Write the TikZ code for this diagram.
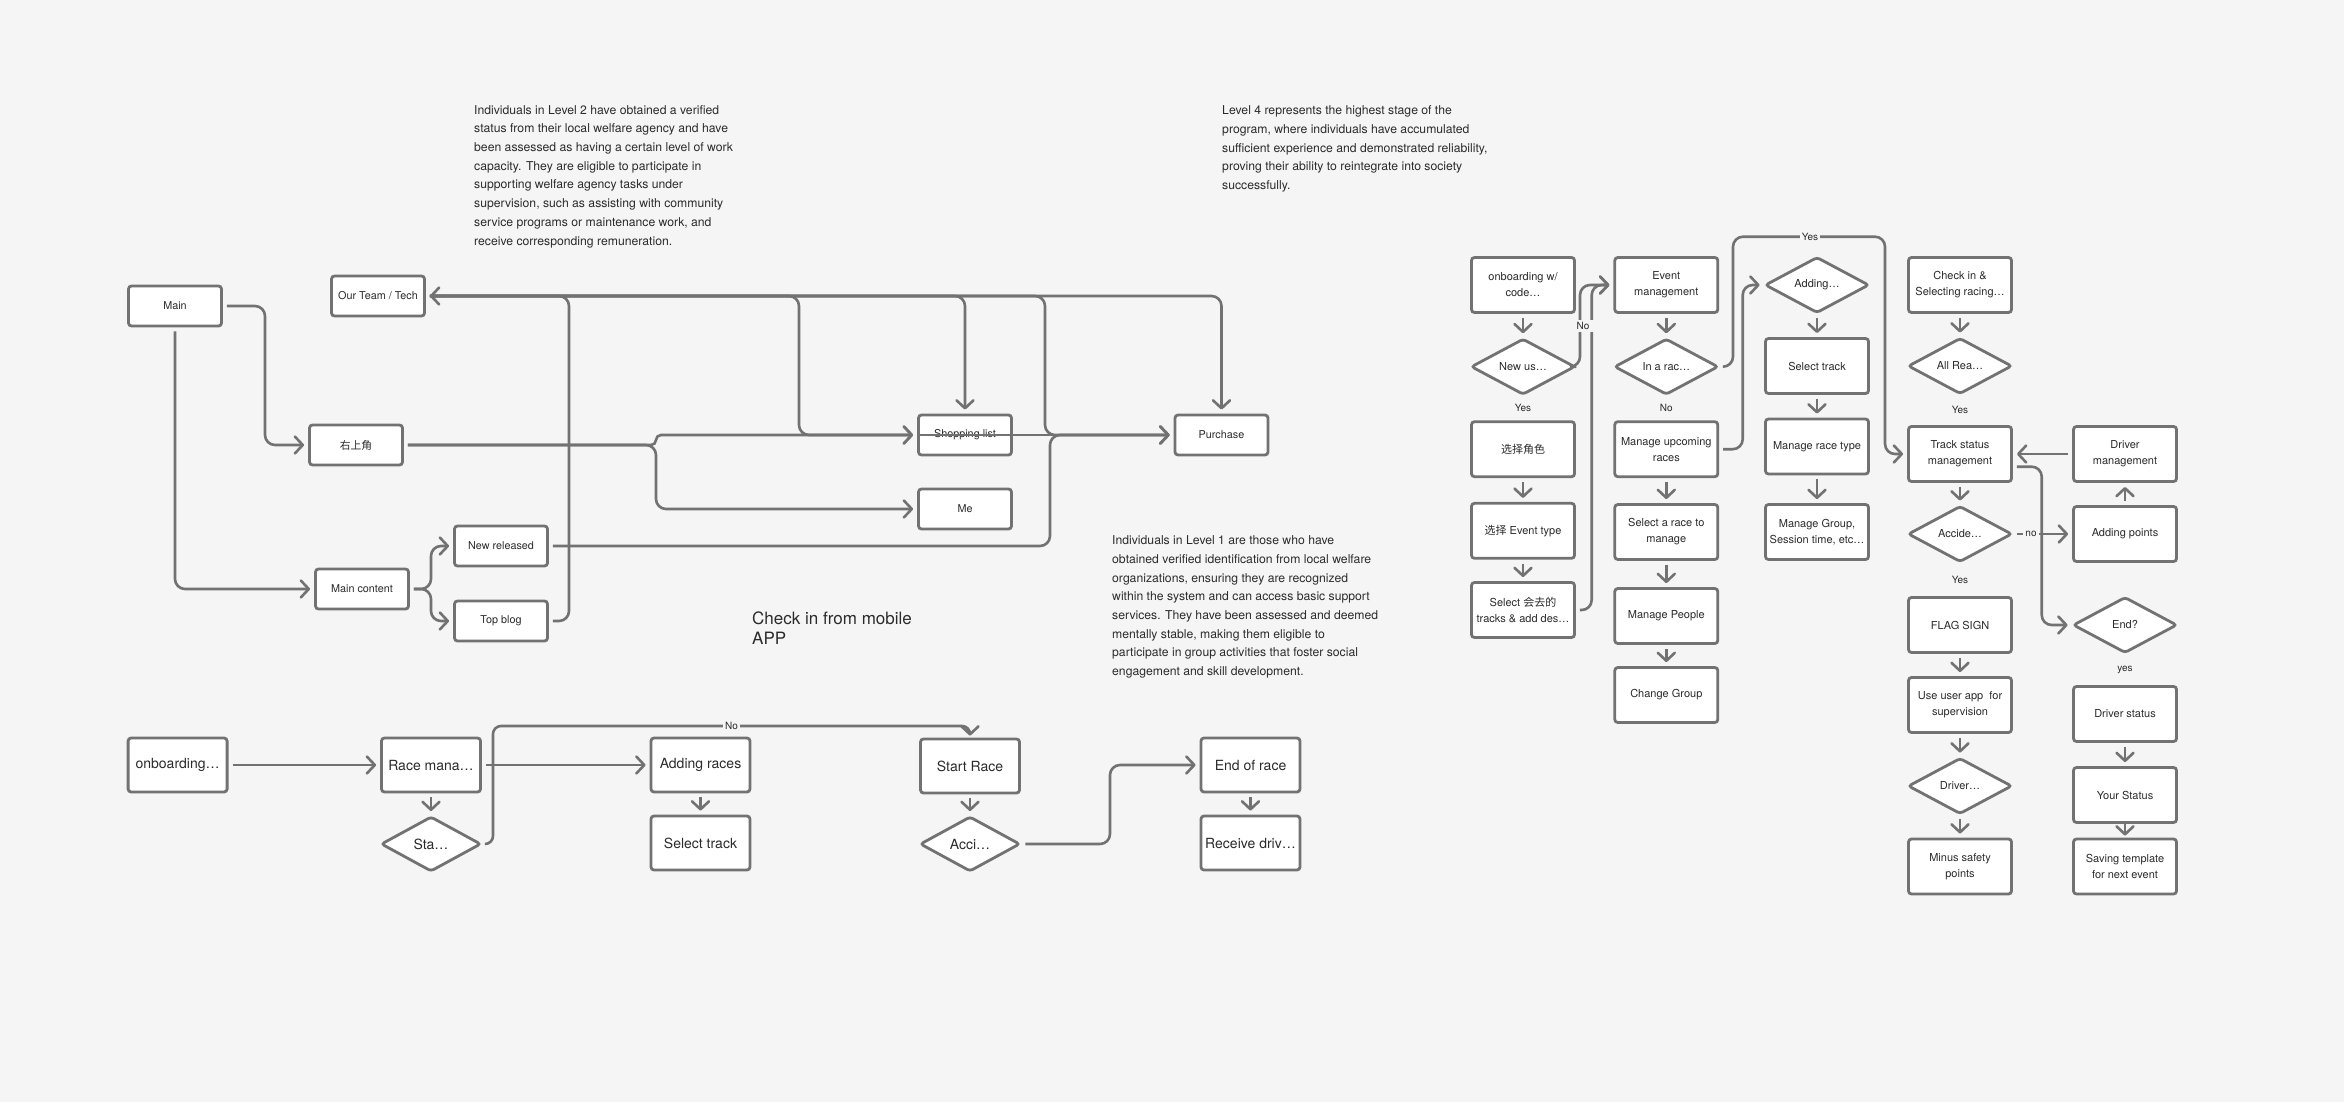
\documentclass[tikz,border=0pt]{standalone}
\usepackage{fontspec}
\setmainfont{TeX Gyre Heros}
\newfontfamily\cjk{Noto Sans CJK SC}
\usepackage{tikz}
\usetikzlibrary{arrows.meta,shapes.geometric,positioning}

\definecolor{paper}{HTML}{F5F5F5}
\definecolor{linegray}{HTML}{727272}
\definecolor{ink}{HTML}{2B2B2B}

\begin{document}
\begin{tikzpicture}[x=1pt, y=-1pt,
    box/.style={draw=linegray, fill=white, line width=2.8pt, rounded corners=3pt, align=center, text=ink, inner sep=2pt},
    small/.style={box, minimum width=93, minimum height=40, font=\fontsize{10.8}{13}\selectfont},
    big/.style={box, minimum width=99, minimum height=54, font=\fontsize{14}{17}\selectfont},
    card/.style={box, minimum width=103, minimum height=55, font=\fontsize{11}{16}\selectfont},
    ask/.style={card, shape=diamond, aspect=1.83, minimum width=104, minimum height=56, inner sep=0pt},
    bigask/.style={big, shape=diamond, aspect=1.8, minimum width=100, minimum height=55, inner sep=0pt},
    link/.style={draw=linegray, line width=2.6pt, rounded corners=10pt, -{Straight Barb[length=8pt,width=17pt,round]}, shorten >=4pt, shorten <=4pt},
    lbl/.style={fill=paper, inner sep=2pt, text=ink, font=\fontsize{10}{12}\selectfont},
    note/.style={anchor=north west, align=left, inner sep=0pt, text=ink, font=\fontsize{12.2}{18.7}\selectfont}]

  \fill[paper] (0,0) rectangle (2344,1102);
  \useasboundingbox (0,0) rectangle (2344,1102);

  % level notes
  \node[note] (lvltwo) at (474,105) {Individuals in Level 2 have obtained a verified\\status from their local welfare agency and have\\been assessed as having a certain level of work\\capacity. They are eligible to participate in\\supporting welfare agency tasks under\\supervision, such as assisting with community\\service programs or maintenance work, and\\receive corresponding remuneration.};
  \node[note] (lvlfour) at (1222,105.5) {Level 4 represents the highest stage of the\\program, where individuals have accumulated\\sufficient experience and demonstrated reliability,\\proving their ability to reintegrate into society\\successfully.};
  \node[note] (lvlone) at (1112,535.5) {Individuals in Level 1 are those who have\\obtained verified identification from local welfare\\organizations, ensuring they are recognized\\within the system and can access basic support\\services. They have been assessed and deemed\\mentally stable, making them eligible to\\participate in group activities that foster social\\engagement and skill development.};
  \node[note, font=\fontsize{17}{20}\selectfont] (mobile) at (752,612) {Check in from mobile\\APP};

  % website map
  \node[small] (main) at (175,306) {Main};
  \node[small] (team) at (378,296) {Our Team / Tech};
  \node[small] (topright) at (356,445) {{\cjk 右上角}};
  \node[small] (content) at (362,589) {Main content};
  \node[small] (newrel) at (501,546) {New released};
  \node[small] (topblog) at (501,621) {Top blog};
  \node[small] (shop) at (965,435) {Shopping list};
  \node[small] (me) at (965,509) {Me};
  \node[small] (buy) at (1221.5,435) {Purchase};

  \draw[link] (main.east) -- (265,306) |- (topright.west);
  \draw[link] (main.south) |- (content.west);
  \draw[link] (content.east) -- (431,589) |- (newrel.west);
  \draw[link] (content.east) -- (431,589) |- (topblog.west);
  \draw[link] (topblog.east) -- (569,621) |- (team.east);
  \draw[link, rounded corners=5pt] (topright.east) -- (656,445) |- (shop.west);
  \draw[link] (topright.east) -- (656,445) |- (me.west);
  \draw[link] (team.east) -- (799,296) |- (shop.west);
  \draw[link] (team.east) -| (shop.north);
  \draw[link] (team.east) -- (1045,296) |- (buy.west);
  \draw[link] (newrel.east) -- (1050,546) |- (buy.west);
  \draw[link] (team.east) -| (buy.north);
  \draw[link, shorten <=0pt] (shop.west) -- (buy.west);

  % mobile check in
  \node[big] (onb) at (177.6,765) {onboarding…};
  \node[big] (racemgmt) at (431,765) {Race mana…};
  \node[bigask] (started) at (431,844) {Sta…};
  \node[big] (addrace) at (700.5,765) {Adding races};
  \node[big] (pick) at (700.5,843) {Select track};
  \node[big] (startrace) at (970,766) {Start Race};
  \node[bigask] (crash) at (970,844) {Acci…};
  \node[big] (raceend) at (1250.5,765) {End of race};
  \node[big] (getdrv) at (1250.5,843) {Receive driv…};

  \draw[link] (onb) -- (racemgmt);
  \draw[link] (racemgmt) -- (addrace);
  \draw[link] (racemgmt) -- (started);
  \draw[link] (addrace) -- (pick);
  \draw[link] (startrace) -- (crash);
  \draw[link] (raceend) -- (getdrv);
  \draw[link, rounded corners=8pt, shorten <=3pt, shorten >=2pt] (started.east) -- (493,844) |- (970,726) -- (startrace.north);
  \draw[link] (crash.east) -- (1110,844) |- (raceend.west);
  \node[lbl] (nolbl) at (731.6,726) {No};

  % admin flow
  \node[card] (join) at (1523,285) {onboarding w/\\code…};
  \node[ask] (newuser) at (1523,366.7) {New us…};
  \node[card] (role) at (1523,449.2) {{\cjk 选择角色}};
  \node[card] (evtype) at (1523,530.8) {{\cjk 选择} Event type};
  \node[card] (tracks) at (1523,610) {Select {\cjk 会去的}\\tracks \& add des…};

  \node[card] (event) at (1666.3,285) {Event\\management};
  \node[ask] (inrace) at (1666.3,366.7) {In a rac…};
  \node[card] (upcoming) at (1666.3,449.2) {Manage upcoming\\races};
  \node[card] (pickrace) at (1666.3,532) {Select a race to\\manage};
  \node[card] (people) at (1666.3,616) {Manage People};
  \node[card] (group) at (1666.3,695) {Change Group};

  \node[ask] (adding) at (1817,285) {Adding…};
  \node[card] (seltrack) at (1817,366) {Select track};
  \node[card] (racetype) at (1817,446.5) {Manage race type};
  \node[card] (groups) at (1817,532) {Manage Group,\\Session time, etc…};

  \node[card] (checkin) at (1960,285) {Check in \&\\Selecting racing…};
  \node[ask] (allready) at (1960,366) {All Rea…};
  \node[card] (status) at (1960,454) {Track status\\management};
  \node[ask] (accident) at (1960,534) {Accide…};
  \node[card] (flag) at (1960,625) {FLAG SIGN};
  \node[card] (useapp) at (1960,705) {Use user app\ \ for\\supervision};
  \node[ask] (driverq) at (1960,786) {Driver…};
  \node[card] (minus) at (1960,866.5) {Minus safety\\points};

  \node[card] (drvmgmt) at (2125,454) {Driver\\management};
  \node[card] (addpts) at (2125,534) {Adding points};
  \node[ask] (endq) at (2125,625) {End?};
  \node[card] (drvstat) at (2125,714) {Driver status};
  \node[card] (yourstat) at (2125,795) {Your Status};
  \node[card] (template) at (2125,866.5) {Saving template\\for next event};

  \draw[link] (join) -- (newuser);
  \draw[link] (role) -- (evtype);
  \draw[link] (evtype) -- (tracks);
  \draw[link, shorten <=0pt] (newuser.east) -- (1580,366.7) |- (event.west);
  \draw[link] (tracks.east) -- (1591.7,610) |- (event.west);
  \draw[link] (event) -- (inrace);
  \draw[link] (upcoming) -- (pickrace);
  \draw[link] (pickrace) -- (people);
  \draw[link] (people) -- (group);
  \draw[link] (inrace.east) -- (1733,366.7) |- (1885,236.7) |- (status.west);
  \draw[link] (upcoming.east) -- (1742.7,449.2) |- (adding.west);
  \draw[link] (adding) -- (seltrack);
  \draw[link] (seltrack) -- (racetype);
  \draw[link] (racetype) -- (groups);
  \draw[link] (checkin) -- (allready);
  \draw[link] (status) -- (accident);
  \draw[link] (flag) -- (useapp);
  \draw[link] (useapp) -- (driverq);
  \draw[link] (driverq) -- (minus);
  \draw[link] (accident) -- (addpts);
  \draw[link] (addpts) -- (drvmgmt);
  \draw[link] (drvmgmt) -- (status);
  \draw[link] ([yshift=-12.7pt]status.east) -- (2041.7,466.7) |- (endq.west);
  \draw[link] (drvstat) -- (yourstat);
  \draw[link, shorten <=0pt, shorten >=2pt] (yourstat) -- (template);

  \node[lbl, inner xsep=6pt] (nouser) at (1583,326) {No};
  \node[lbl] (yesuser) at (1523,408.3) {Yes};
  \node[lbl] (norace) at (1666.3,407.7) {No};
  \node[lbl] (yesrace) at (1810,236.7) {Yes};
  \node[lbl] (yesready) at (1960,410) {Yes};
  \node[lbl] (yescrash) at (1960,580) {Yes};
  \node[lbl] (nocrash) at (2031,534) {no};
  \node[lbl] (yesend) at (2125,670) {yes};
\end{tikzpicture}
\end{document}
